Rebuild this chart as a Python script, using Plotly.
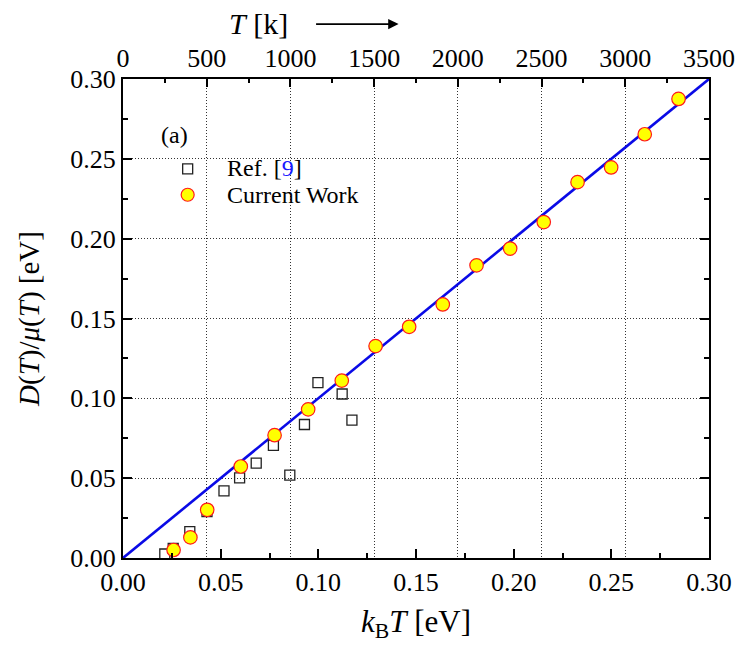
import plotly.graph_objects as go

# Reference data set (Ref. [9]): k_B T [eV] vs D/mu [eV]
ref_kT = [0.0214, 0.0257, 0.0342, 0.0430, 0.0517, 0.0597, 0.0682, 0.0770,
          0.0854, 0.0929, 0.0998, 0.1122, 0.1172]
ref_D_mu = [0.0025, 0.0060, 0.0165, 0.0290, 0.0421, 0.0502, 0.0594, 0.0706,
            0.0519, 0.0836, 0.1098, 0.1027, 0.0864]

# Current work: k_B T [eV] vs D/mu [eV]
cw_kT = [0.0259, 0.0345, 0.0431, 0.0603, 0.0776, 0.0948, 0.1120, 0.1293,
         0.1465, 0.1637, 0.1810, 0.1982, 0.2154, 0.2327, 0.2499, 0.2671, 0.2844]
cw_D_mu = [0.0050, 0.0129, 0.0302, 0.0573, 0.0769, 0.0931, 0.1111, 0.1327,
           0.1448, 0.1588, 0.1833, 0.1938, 0.2104, 0.2354, 0.2446, 0.2654, 0.2875]

# Einstein relation D/mu = k_B T
line_kT = [0.0, 0.30]
line_D_mu = [0.0, 0.30]

x_range = [0.0, 0.30]
y_range = [0.0, 0.30]
T_range = [0, 3500]

FONT = "Liberation Serif"
W, H = 747, 645
L, R, T, B = 123, 35, 79, 86

fig = go.Figure()
fig.add_trace(go.Scatter(x=line_kT, y=line_D_mu, mode="lines",
                         line=dict(color="#0a0ae6", width=2.6),
                         showlegend=False, hoverinfo="skip"))
fig.add_trace(go.Scatter(x=ref_kT, y=ref_D_mu, mode="markers", name="Ref. [9]",
                         marker=dict(symbol="square-open", size=10,
                                     color="#222222", line=dict(width=1.3)),
                         showlegend=False))
fig.add_trace(go.Scatter(x=cw_kT, y=cw_D_mu, mode="markers", name="Current Work",
                         marker=dict(symbol="circle", size=13.5, color="#ffff00",
                                     line=dict(color="#ff1a1a", width=1.2)),
                         showlegend=False))
# invisible trace to activate the top temperature axis
fig.add_trace(go.Scatter(x=T_range, y=y_range, xaxis="x2", mode="markers",
                         marker=dict(opacity=0), showlegend=False,
                         hoverinfo="skip"))

tickfont = dict(family=FONT, size=26, color="black")
dotgrid = dict(showgrid=True, gridcolor="#333333", gridwidth=1,
               griddash="1px,2px")

fig.update_layout(
    width=W, height=H,
    margin=dict(l=L, r=R, t=T, b=B),
    paper_bgcolor="white", plot_bgcolor="white",
    font=dict(family=FONT, color="black"),
    showlegend=False,
    xaxis=dict(range=x_range, dtick=0.05, tickformat=".2f",
               ticks="inside", ticklen=9, tickwidth=1.5, tickcolor="black",
               minor=dict(ticks="inside", dtick=0.025, ticklen=5,
                          tickwidth=1.5, tickcolor="black", showgrid=False),
               showline=True, linecolor="black", linewidth=2, mirror=False,
               showgrid=False, zeroline=False, tickfont=tickfont,
               title=dict(text="<i>k</i><sub>B</sub><i>T</i> [eV]",
                          font=dict(family=FONT, size=31), standoff=14)),
    xaxis2=dict(range=T_range, dtick=500, overlaying="x", side="top",
                anchor="y", ticks="inside", ticklen=8, tickwidth=1.5,
                tickcolor="black",
                minor=dict(ticks="inside", dtick=250, ticklen=4,
                           tickwidth=1.5, tickcolor="black", showgrid=False),
                showline=True, linecolor="black", linewidth=2,
                zeroline=False, tickfont=tickfont, **dotgrid),
    yaxis=dict(range=y_range, dtick=0.05, tickformat=".2f",
               ticks="inside", ticklen=9, tickwidth=1.5, tickcolor="black",
               minor=dict(ticks="inside", dtick=0.025, ticklen=5,
                          tickwidth=1.5, tickcolor="black", showgrid=False),
               showline=True, linecolor="black", linewidth=2, mirror="ticks",
               zeroline=False, tickfont=tickfont,
               title=dict(text="<i>D</i>(<i>T</i>)/<i>μ</i>(<i>T</i>) [eV]",
                          font=dict(family=FONT, size=29), standoff=22),
               **dotgrid),
)

# Legend and panel label
pw, ph = W - L - R, H - T - B


def px(xp):
    return (xp - L) / pw


def py(yp):
    return (H - B - yp) / ph


fig.add_shape(type="rect", xref="paper", yref="paper",
              xsizemode="pixel", ysizemode="pixel",
              xanchor=px(188), yanchor=py(169),
              x0=-5, x1=5, y0=-5, y1=5,
              line=dict(color="#222222", width=1.3), fillcolor="white")
fig.add_shape(type="circle", xref="paper", yref="paper",
              xsizemode="pixel", ysizemode="pixel",
              xanchor=px(188), yanchor=py(195),
              x0=-6.5, x1=6.5, y0=-6.5, y1=6.5,
              line=dict(color="#ff1a1a", width=1.2), fillcolor="#ffff00")

leg_font = dict(family=FONT, size=24, color="black")
fig.add_annotation(x=px(226), y=py(168), xref="paper", yref="paper",
                   xanchor="left", yanchor="middle", showarrow=False,
                   text="Ref. [<span style='color:#1a1aff'>9</span>]",
                   font=leg_font)
fig.add_annotation(x=px(226), y=py(195), xref="paper", yref="paper",
                   xanchor="left", yanchor="middle", showarrow=False,
                   text="Current Work", font=leg_font)
fig.add_annotation(x=px(175), y=py(135), xref="paper", yref="paper",
                   xanchor="center", yanchor="middle", showarrow=False,
                   text="(a)", font=leg_font)

# Top axis title with arrow
fig.add_annotation(x=px(259), y=py(23), xref="paper", yref="paper",
                   xanchor="center", yanchor="middle", showarrow=False,
                   text="<i>T</i> [k]", font=dict(family=FONT, size=30))
fig.add_annotation(x=px(400), y=py(24), xref="paper", yref="paper",
                   ax=-84, ay=0, text="", showarrow=True,
                   arrowhead=2, arrowsize=1.3, arrowwidth=1.6,
                   arrowcolor="black")

fig.write_html("out.html")
